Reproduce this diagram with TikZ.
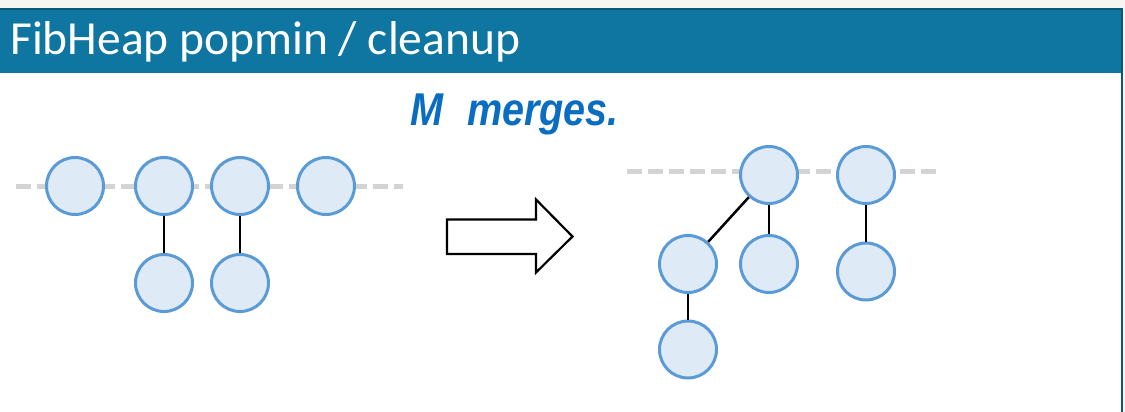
\documentclass[tikz,border=0pt]{standalone}
\usepackage{fontspec}
\setmainfont{Carlito}
\newfontfamily\handfont{Liberation Sans}[ItalicFont={Liberation Sans Bold Italic}]
\definecolor{barblue}{HTML}{0E76A0}
\definecolor{bardark}{HTML}{0B5873}
\definecolor{pagebg}{HTML}{F6F5F2}
\definecolor{nodefill}{HTML}{DEEBF7}
\definecolor{nodeline}{HTML}{5B9BD5}
\definecolor{rootline}{HTML}{D3D3D3}
\definecolor{inkblue}{HTML}{0A6DC2}
\tikzset{
  heapnode/.style={circle, draw=nodeline, fill=nodefill, line width=3pt, minimum size=57pt, inner sep=0pt},
  rootlist/.style={draw=rootline, line width=4.5pt, dash pattern=on 15pt off 6pt},
  link/.style={draw=black, line width=2.5pt},
  bigarrow/.style={draw=black, fill=white, line width=2.2pt, line join=miter}
}
\begin{document}
\begin{tikzpicture}[x=1pt,y=-1pt]
\useasboundingbox (0,0) rectangle (1125,412);
% background
\fill[pagebg] (0,0) rectangle (1125,412);
\fill[white] (0,9) rectangle (1121,412);
% title bar
\fill[barblue] (0,9) rectangle (1121,73);
\fill[bardark] (0,8) rectangle (1123,10.5);
\fill[bardark] (1120.5,8) rectangle (1123,412);
\node[anchor=base west, inner sep=0pt, text=white, font=\fontsize{47.5pt}{47.5pt}\selectfont] (title) at (10,55) {FibHeap popmin / cleanup};
% handwritten note
\node[anchor=base west, inner sep=0pt, text=inkblue, font=\handfont\itshape\fontsize{46pt}{46pt}\selectfont, xscale=0.86] (note) at (410,125) {M\hspace{28pt}merges.};
% left heap
\coordinate (lstart) at (16,186.5);
\coordinate (lend) at (403,186.5);
\draw[rootlist] (lstart) -- (lend);
\node[heapnode] (a1) at (75,186) {};
\node[heapnode] (a2) at (164,186) {};
\node[heapnode] (a3) at (240,186) {};
\node[heapnode] (a4) at (326,186) {};
\node[heapnode] (b2) at (164,283) {};
\node[heapnode] (b3) at (240,283) {};
\draw[link] (a2) -- (b2);
\draw[link] (a3) -- (b3);
% arrow
\draw[bigarrow] (447,219.5) -- (536,219.5) -- (536,199.5) -- (572.5,236.5) -- (536,272.5) -- (536,254) -- (447,254) -- cycle;
% right heap
\coordinate (rstart) at (627,171.5);
\coordinate (rend) at (940,171.5);
\draw[rootlist] (rstart) -- (rend);
\node[heapnode] (r1) at (769,175) {};
\node[heapnode] (r2) at (866,175) {};
\node[heapnode] (c1) at (688,264) {};
\node[heapnode] (c2) at (769,264) {};
\node[heapnode] (c3) at (866,271.5) {};
\node[heapnode] (d1) at (688,349.5) {};
\draw[link] (r1) -- (c1);
\draw[link] (r1) -- (c2);
\draw[link] (r2) -- (c3);
\draw[link] (c1) -- (d1);
\end{tikzpicture}
\end{document}
